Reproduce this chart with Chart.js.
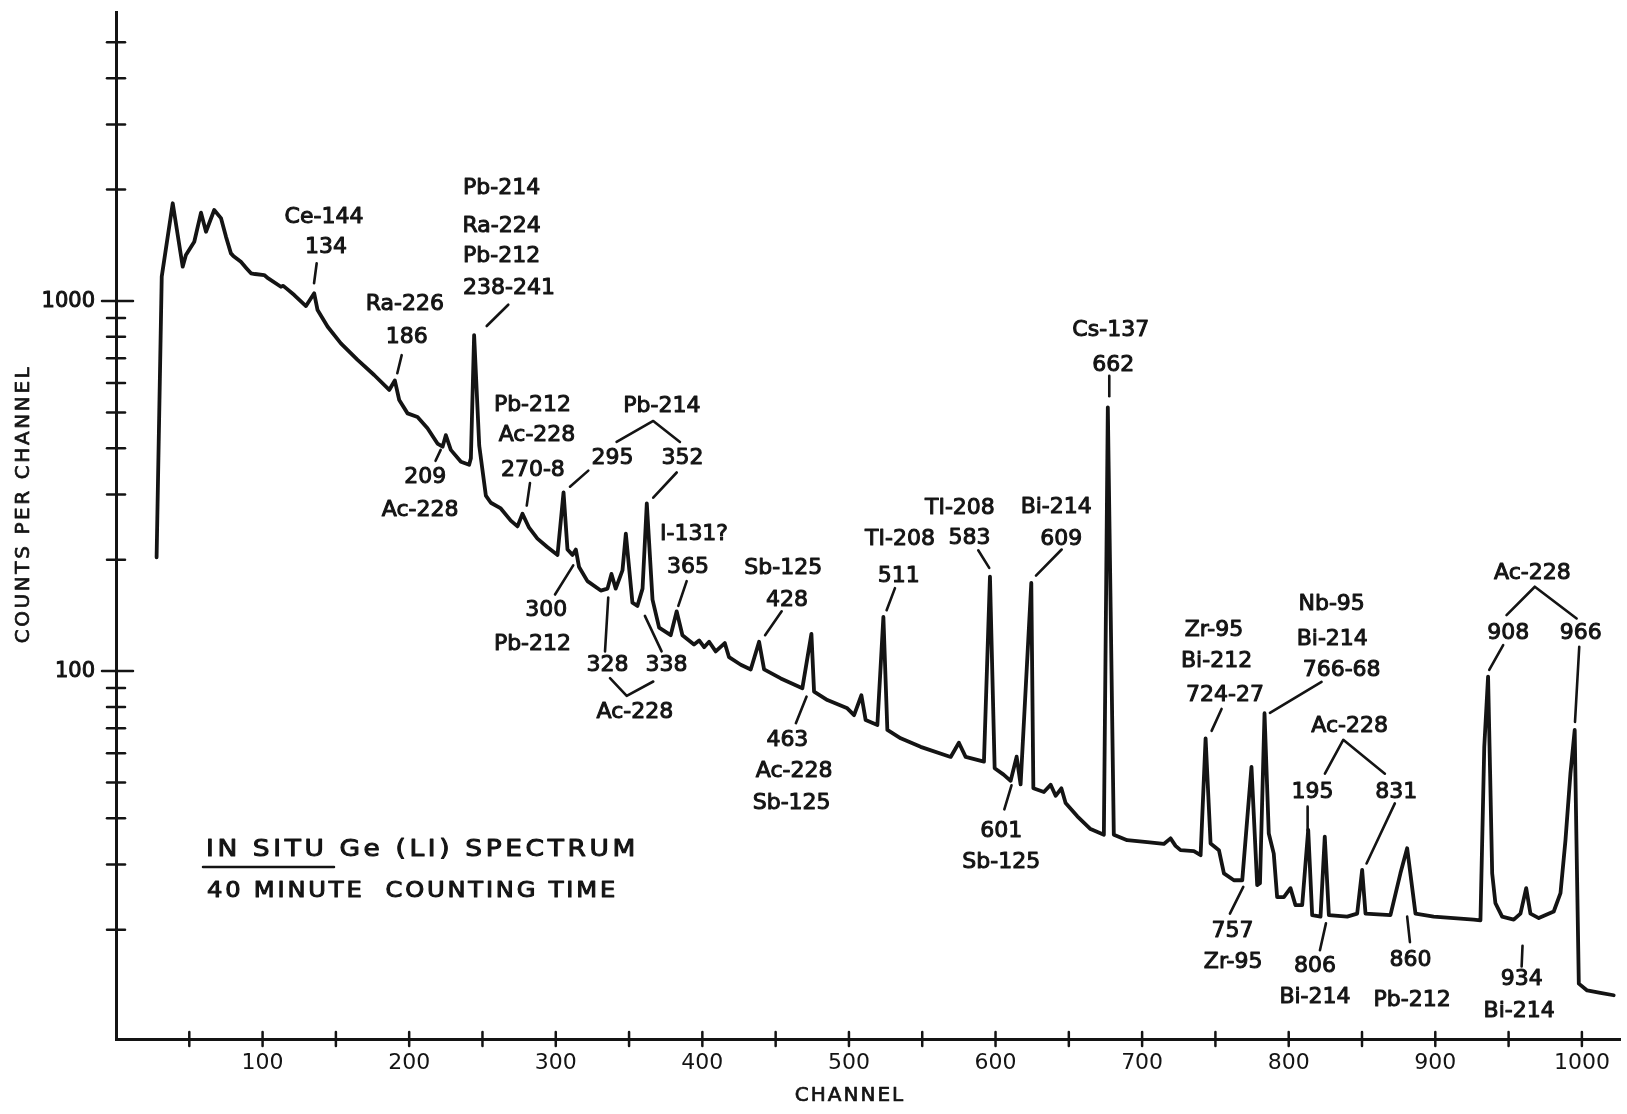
<!DOCTYPE html>
<html>
<head>
<meta charset="utf-8">
<script src="https://cdn.jsdelivr.net/npm/chart.js@4.4.0/dist/chart.umd.min.js"></script>
<style>
  html, body { margin: 0; padding: 0; background: #fff; }
  canvas { display: block; }
</style>
</head>
<body>
<canvas id="spectrum" width="1627" height="1114"></canvas>
<script>
// --- Spectrum (channel, counts per channel) ---
const channel = [
  27.7, 31.2, 38.7, 45.5, 47.7, 53.4, 58.0, 61.4, 67.0, 71.6, 75.0, 78.4, 80.0, 85.2,
  89.1, 92.1, 94.8, 101.1, 103.9, 112.5, 114.1, 116.4, 121.6, 129.6, 135.2, 137.5,
  144.4, 153.4, 164.8, 176.1, 186.4, 190.2,
  193.2, 198.9, 205.7, 212.5, 219.3, 222.8, 225.0, 228.4, 235.3, 240.9, 242.1, 244.3,
  247.8, 252.3, 255.7, 262.5, 269.3, 273.9, 277.3, 281.8, 287.5, 294.4, 301.2, 305.3,
  308.0, 311.4, 313.7, 315.9, 321.6, 330.7, 335.3, 338.0, 340.9, 345.5, 347.8, 352.3,
  355.7, 359.2, 362.1, 366.0, 370.5, 378.4, 382.5, 386.4, 394.3, 397.8, 401.2, 404.6,
  409.1, 415.3, 418.2, 426.2, 433.0, 438.7, 442.1, 453.5, 468.2, 474.4, 476.2, 485.3,
  498.9, 503.5, 508.5, 511.4, 519.4, 523.5, 526.2, 535.3, 548.9, 569.4, 575.0, 579.6,
  592.1, 596.2, 599.4, 605.5, 610.3, 614.4, 617.1, 624.4, 625.8, 633.0, 637.6, 641.0,
  644.9, 647.8, 655.8, 664.8, 673.9, 676.6, 680.7, 689.8, 703.5, 714.8, 719.4, 722.8,
  726.2, 735.3, 739.9, 743.3, 746.7, 752.4, 755.8, 762.6, 768.3, 774.6, 778.5, 780.4,
  783.5, 786.4, 789.8, 792.1, 796.7, 801.2, 804.6, 809.2, 813.3, 816.0, 821.7, 824.6,
  827.4, 839.9, 846.7, 850.1, 852.4, 869.4, 876.2, 880.8, 886.5, 898.9, 912.6, 926.2,
  930.8, 933.4, 936.0, 937.4, 938.8, 941.0, 945.6, 953.5, 958.1, 962.0, 964.9, 970.6,
  980.8, 985.4, 988.8, 992.2, 995.1, 996.3, 997.9, 1003.6, 1012.6, 1021.7
];
const counts = [
  203, 1164, 1837, 1238, 1331, 1446, 1733, 1539, 1762, 1675, 1493, 1345, 1324, 1276,
  1225, 1188, 1183, 1175, 1151, 1093, 1099, 1080, 1038, 969, 1049, 945,
  852, 768, 693, 631, 575, 610,
  540, 497, 486, 453, 412, 404, 434, 396, 368, 361, 376, 809,
  406, 298, 285, 275, 255, 246, 266, 244, 228, 216, 206, 304,
  213, 206, 213, 191, 175, 165, 167, 183, 167, 187, 235, 153,
  150, 167, 284, 156, 131, 125, 145, 125, 118, 121, 116, 120,
  113, 119, 109, 104, 101, 120, 101, 95.5, 89.8, 126, 88, 83.5,
  79.3, 76, 86, 73.7, 71.5, 140, 69.3, 65.8, 62.4, 58.6, 64, 58.6,
  56.9, 180, 54.6, 52.5, 50.5, 58.7, 49.4, 173, 48.2, 47.1, 49.3, 46,
  48.2, 44, 40.5, 37.4, 36.1, 516, 36.1, 34.9, 34.5, 34.1, 35.3, 33.7,
  32.8, 32.6, 31.8, 65.8, 34.2, 32.8, 28.4, 27.2, 27.2, 55.1, 26.4, 26.7,
  76.9, 36.4, 32.1, 24.5, 24.5, 25.9, 23.3, 23.3, 37.2, 21.9, 21.7, 35.7,
  21.9, 21.7, 22.1, 29, 22.1, 21.9, 28.4, 33.2, 22.1, 21.7, 21.5, 21.3,
  21.2, 62.4, 96.6, 52.9, 28.4, 23.6, 21.7, 21.3, 22.1, 25.9, 22.1, 21.5,
  22.4, 25.1, 34.9, 52.9, 69.3, 34.9, 14.3, 13.7, 13.5, 13.3
];

// --- Axes ---
const xTickMarks = [50, 100, 150, 200, 250, 300, 350, 400, 450, 500, 550, 600, 650, 700, 750, 800, 850, 900, 950, 1000];
const xTickLabels = [100, 200, 300, 400, 500, 600, 700, 800, 900, 1000];
const yTickMarks = [20, 30, 40, 50, 60, 70, 80, 90, 100, 200, 300, 400, 500, 600, 700, 800, 900, 1000, 2000, 3000, 4000, 5000];
const yTickLabels = [100, 1000];

// --- Peak labels: [text, channel, counts] ---
const peakText = [
  ['Ce-144', 141.9, 1690], ['134', 143.2, 1403],
  ['Ra-226', 197.1, 986], ['186', 198.3, 801],
  ['209', 211, 335], ['Ac-228', 207.5, 274],
  ['Pb-214', 263.1, 2023], ['Ra-224', 263.1, 1603], ['Pb-212', 263.1, 1327], ['238-241', 268.1, 1086],
  ['Pb-212', 284.1, 525], ['Ac-228', 287.2, 435], ['270-8', 284.4, 350],
  ['Pb-214', 372.4, 523], ['295', 338.7, 378], ['352', 386.4, 378],
  ['I-131?', 394.3, 235], ['365', 390.2, 192],
  ['300', 293.5, 147], ['Pb-212', 284.1, 119],
  ['328', 335.3, 104], ['338', 375.6, 104], ['Ac-228', 354, 78],
  ['Sb-125', 455.2, 190.5], ['428', 457.8, 156],
  ['463', 458, 65.4], ['Ac-228', 462.6, 54], ['Sb-125', 460.9, 44.3],
  ['TI-208', 534.8, 228.7], ['511', 534, 181],
  ['TI-208', 575.7, 277], ['583', 582.3, 230],
  ['Cs-137', 678.6, 841], ['662', 680.3, 676],
  ['Bi-214', 641.4, 279], ['609', 644.8, 229],
  ['601', 603.9, 37.2], ['Sb-125', 603.9, 30.6],
  ['Zr-95', 749, 130], ['Bi-212', 750.8, 106.7], ['724-27', 756.5, 86.3],
  ['Nb-95', 829.3, 152.4], ['Bi-214', 829.7, 122.5], ['766-68', 836.1, 101.2],
  ['Ac-228', 841.6, 71.4], ['195', 816.2, 47.2], ['831', 873.3, 47.2],
  ['757', 761.6, 19.95], ['Zr-95', 762.1, 16.4],
  ['806', 817.9, 16.0], ['Bi-214', 817.9, 13.2],
  ['860', 883, 16.6], ['Pb-212', 884.2, 13.0],
  ['Ac-228', 966.2, 184.5], ['908', 949.7, 127.6], ['966', 999.2, 127.6],
  ['934', 958.9, 14.8], ['Bi-214', 957.2, 12.1]
];

// leader lines and brackets, as [channel, counts] points
const leaders = [
  [[136.9, 1265], [135.1, 1117]],
  [[194.9, 714], [191.9, 638]],
  [[221.5, 396], [218, 370]],
  [[267.6, 977], [252.9, 856]],
  [[282.4, 322], [280.2, 280]],
  [[341.5, 416], [366.5, 474], [384.7, 416]],
  [[322.2, 348], [309.7, 315]],
  [[382.5, 344], [366.5, 294]],
  [[389.3, 175], [383.6, 150]],
  [[311.9, 193], [299.5, 161]],
  [[335.8, 158], [333.6, 113]],
  [[360.8, 141], [372.2, 113]],
  [[337, 95.7], [348.4, 85.7], [366.5, 93.7]],
  [[454.1, 145], [442.8, 125]],
  [[471.1, 85.3], [463.8, 72.3]],
  [[531.4, 167.5], [525.7, 146]],
  [[588.2, 212], [595.7, 190]],
  [[677.6, 628], [677.6, 553]],
  [[645.1, 213], [627.6, 181]],
  [[610.9, 49.1], [606, 42.3]],
  [[754.2, 79], [747.4, 68.9]],
  [[822.4, 93.5], [787.2, 77.1]],
  [[824.7, 52.8], [837.2, 65.2], [865.6, 52.8]],
  [[812.9, 43], [812.9, 37.1]],
  [[872.4, 43.9], [853.1, 30.2]],
  [[769, 26.1], [759.9, 22.1]],
  [[825.4, 20.8], [821.3, 17.6]],
  [[880.8, 21.7], [882.7, 18.5]],
  [[948.6, 141.6], [967.9, 169], [996.4, 138.7]],
  [[946.3, 117.5], [936.8, 100.7]],
  [[998.2, 116.3], [995.3, 72.9]],
  [[959.5, 18.1], [958.9, 15.9]]
];

const INK = '#141414';
const FONT = '"DejaVu Sans", sans-serif';

function strokePath(ctx, pts) {
    ctx.beginPath();
    pts.forEach(([px, py], i) => i ? ctx.lineTo(px, py) : ctx.moveTo(px, py));
    ctx.stroke();
}

// lettering: a little heavier than the plain font
function letter(ctx, t, px, py) {
    ctx.fillText(t, px, py);
    ctx.strokeText(t, px, py);
}

// --- Tick crosses, peak labels and texts ---
const decorations = {
    id: 'decorations',
    afterDraw(chart) {
        const { ctx, scales: { x, y } } = chart;
        ctx.save();
        ctx.strokeStyle = INK;
        ctx.fillStyle = INK;
        ctx.lineCap = 'round';
        ctx.lineJoin = 'round';

        // axis ticks crossing the axis lines
        ctx.lineWidth = 2.5;
        xTickMarks.forEach(v => {
            const px = x.getPixelForValue(v);
            strokePath(ctx, [[px, y.bottom - 7], [px, y.bottom + 7]]);
        });
        yTickMarks.forEach(v => {
            const py = y.getPixelForValue(v);
            const major = yTickLabels.includes(v);
            strokePath(ctx, [[x.left - (major ? 14 : 9), py], [x.left + (major ? 17 : 9), py]]);
        });

        // leader lines
        ctx.lineWidth = 2.6;
        leaders.forEach(pts => {
            strokePath(ctx, pts.map(([c, n]) => [x.getPixelForValue(c), y.getPixelForValue(n)]));
        });

        // peak labels
        ctx.lineWidth = 1;
        ctx.font = '22px ' + FONT;
        ctx.textAlign = 'center';
        ctx.textBaseline = 'middle';
        peakText.forEach(([t, c, n]) => {
            letter(ctx, t, x.getPixelForValue(c), y.getPixelForValue(n) + 1);
        });

        // y tick labels
        ctx.font = '21px ' + FONT;
        ctx.textAlign = 'right';
        yTickLabels.forEach(v => letter(ctx, String(v), x.left - 21, y.getPixelForValue(v) + 1));

        // caption, wide lettering
        ctx.textAlign = 'left';
        ctx.textBaseline = 'alphabetic';
        ctx.save();
        ctx.translate(206, 856);
        ctx.scale(1.15, 1);
        ctx.font = '23px ' + FONT;
        ctx.letterSpacing = '3.15px';
        letter(ctx, 'IN SITU Ge (LI) SPECTRUM', 0, 0);
        ctx.restore();
        ctx.save();
        ctx.translate(207, 897);
        ctx.scale(1.15, 1);
        ctx.font = '21px ' + FONT;
        ctx.letterSpacing = '2.45px';
        letter(ctx, '40 MINUTE  COUNTING TIME', 0, 0);
        ctx.restore();
        ctx.lineWidth = 2.5;
        strokePath(ctx, [[203, 867], [334, 867]]);

        // axis titles
        ctx.lineWidth = 0.7;
        ctx.font = '20px ' + FONT;
        ctx.textAlign = 'center';
        ctx.textBaseline = 'middle';
        ctx.letterSpacing = '2px';
        letter(ctx, 'CHANNEL', 850, 1096);
        ctx.save();
        ctx.translate(24, 504);
        ctx.rotate(-Math.PI / 2);
        ctx.letterSpacing = '2.6px';
        letter(ctx, 'COUNTS PER CHANNEL', 0, 0);
        ctx.restore();
        ctx.restore();
    }
};

const points = channel.map((c, i) => ({ x: c, y: counts[i] }));

new Chart(document.getElementById('spectrum'), {
    type: 'line',
    data: {
        datasets: [{
            data: points,
            borderColor: INK,
            borderWidth: 3.8,
            pointRadius: 0,
            tension: 0,
            borderJoinStyle: 'round',
            borderCapStyle: 'round',
            fill: false
        }]
    },
    options: {
        responsive: false,
        animation: false,
        devicePixelRatio: 1,
        layout: { padding: { top: 12, right: 7, left: 0, bottom: 0 } },
        plugins: { legend: { display: false }, tooltip: { enabled: false } },
        scales: {
            x: {
                type: 'linear',
                min: 0,
                max: 1026,
                afterBuildTicks: s => { s.ticks = xTickLabels.map(v => ({ value: v })); },
                afterFit: s => { s.height = 75; s.paddingLeft = 0; s.paddingRight = 0; },
                grid: { display: false, drawTicks: false },
                border: { display: true, color: INK, width: 3 },
                ticks: {
                    autoSkip: false,
                    maxRotation: 0,
                    padding: 11,
                    color: INK,
                    font: { family: FONT, size: 22 },
                    callback: v => String(v)
                }
            },
            y: {
                type: 'logarithmic',
                min: 10.13,
                max: 6040,
                afterBuildTicks: s => { s.ticks = yTickLabels.map(v => ({ value: v })); },
                afterFit: s => { s.width = 116; s.paddingTop = 0; s.paddingBottom = 0; },
                grid: { display: false, drawTicks: false },
                border: { display: true, color: INK, width: 3 },
                ticks: { display: false }
            }
        }
    },
    plugins: [decorations]
});
</script>
</body>
</html>
